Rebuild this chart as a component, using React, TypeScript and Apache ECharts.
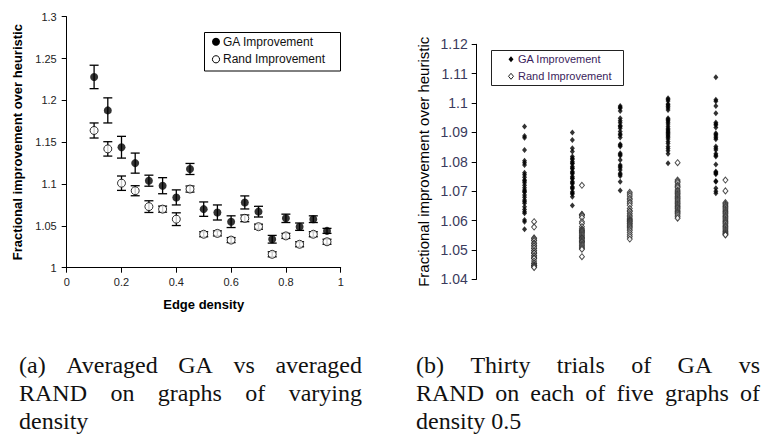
import React, { useEffect, useRef } from "react";
import * as echarts from "echarts";

// ---- (a) averaged results vs edge density ----
const densities = [0.1, 0.15, 0.2, 0.25, 0.3, 0.35, 0.4, 0.45, 0.5, 0.55, 0.6, 0.65, 0.7, 0.75, 0.8, 0.85, 0.9, 0.95];
const gaMean = [1.228, 1.188, 1.144, 1.125, 1.104, 1.098, 1.084, 1.118, 1.07, 1.066, 1.055, 1.078, 1.067, 1.034, 1.059, 1.049, 1.058, 1.044];
const gaErr = [0.014, 0.015, 0.013, 0.012, 0.0066, 0.0096, 0.009, 0.0066, 0.0086, 0.009, 0.007, 0.0078, 0.0064, 0.0046, 0.005, 0.0044, 0.004, 0.003];
const randMean = [1.164, 1.142, 1.101, 1.092, 1.073, 1.07, 1.058, 1.094, 1.04, 1.041, 1.033, 1.059, 1.049, 1.016, 1.038, 1.028, 1.04, 1.031];
const randErr = [0.009, 0.0086, 0.0086, 0.006, 0.007, 0.0036, 0.0076, 0.0036, 0.003, 0.003, 0.003, 0.004, 0.003, 0.003, 0.003, 0.003, 0.003, 0.003];
const leftYTicks = { min: 1, max: 1.3, interval: 0.05 };
const leftXTicks = { min: 0, max: 1, interval: 0.2 };

// ---- (b) thirty trials on five graphs of density 0.5 ----
const graphIds = [1, 2, 3, 4, 5];
const randOffset = 0.2;
const gaTrials = [
  [1.092, 1.0888, 1.0882, 1.084, 1.0804, 1.0797, 1.0789, 1.0763, 1.0756, 1.0747, 1.0738, 1.0735, 1.0729, 1.072, 1.0712, 1.0704, 1.07, 1.0696, 1.0687, 1.0679, 1.067, 1.0665, 1.0659, 1.0647, 1.0638, 1.063, 1.0625, 1.0602, 1.0596, 1.057],
  [1.09, 1.0874, 1.0846, 1.0835, 1.0818, 1.0812, 1.0809, 1.0801, 1.0796, 1.0793, 1.0784, 1.0779, 1.0776, 1.0767, 1.0763, 1.0759, 1.075, 1.0745, 1.0742, 1.0733, 1.0729, 1.0725, 1.0715, 1.0712, 1.0708, 1.0698, 1.0694, 1.069, 1.0681, 1.0651],
  [1.099, 1.0986, 1.0982, 1.0973, 1.0948, 1.094, 1.0933, 1.0924, 1.092, 1.0914, 1.0903, 1.0895, 1.0891, 1.0883, 1.086, 1.0856, 1.0852, 1.0829, 1.0825, 1.0821, 1.0806, 1.0789, 1.0785, 1.078, 1.0772, 1.0761, 1.0757, 1.0752, 1.0732, 1.0702],
  [1.1016, 1.1012, 1.1007, 1.0997, 1.0993, 1.0988, 1.0983, 1.0976, 1.0948, 1.0944, 1.094, 1.0935, 1.0929, 1.0921, 1.0914, 1.0909, 1.0905, 1.0901, 1.0897, 1.0892, 1.0888, 1.0884, 1.0878, 1.0869, 1.0862, 1.0852, 1.0845, 1.0838, 1.0827, 1.0795],
  [1.1088, 1.1011, 1.1006, 1.099, 1.0965, 1.0934, 1.0929, 1.0925, 1.0917, 1.0897, 1.0893, 1.0888, 1.0882, 1.0877, 1.0852, 1.0846, 1.084, 1.0827, 1.0822, 1.0818, 1.0791, 1.0767, 1.0764, 1.0761, 1.0758, 1.0735, 1.0732, 1.071, 1.07, 1.0693],
];
const randTrials = [
  [1.0596, 1.0578, 1.0541, 1.0538, 1.0532, 1.0532, 1.0524, 1.0521, 1.0515, 1.0513, 1.0506, 1.0506, 1.0498, 1.0497, 1.049, 1.0489, 1.0489, 1.0481, 1.0479, 1.0473, 1.0471, 1.0471, 1.0462, 1.0455, 1.0454, 1.0448, 1.0447, 1.0446, 1.0442, 1.044],
  [1.072, 1.0621, 1.062, 1.0616, 1.061, 1.0596, 1.059, 1.0579, 1.0572, 1.0568, 1.0565, 1.0562, 1.0559, 1.0555, 1.0551, 1.0547, 1.0543, 1.0541, 1.0538, 1.0534, 1.053, 1.0528, 1.0526, 1.0521, 1.0517, 1.0513, 1.0509, 1.0505, 1.0502, 1.0477],
  [1.0696, 1.069, 1.0684, 1.0676, 1.0671, 1.0664, 1.0659, 1.0652, 1.0641, 1.0633, 1.0631, 1.0624, 1.0618, 1.0613, 1.0608, 1.0604, 1.0601, 1.0598, 1.0595, 1.0591, 1.0588, 1.0584, 1.058, 1.0576, 1.0571, 1.0566, 1.0559, 1.0552, 1.0545, 1.0537],
  [1.0797, 1.0738, 1.0733, 1.0729, 1.0721, 1.0716, 1.0712, 1.0704, 1.07, 1.0695, 1.0691, 1.0687, 1.0682, 1.0678, 1.0674, 1.067, 1.0666, 1.0661, 1.0657, 1.0653, 1.0649, 1.0645, 1.0641, 1.0636, 1.0632, 1.0628, 1.0624, 1.0619, 1.0613, 1.0608],
  [1.0738, 1.0701, 1.0661, 1.0657, 1.0653, 1.0649, 1.0645, 1.064, 1.0636, 1.0632, 1.0628, 1.0624, 1.0619, 1.0615, 1.0611, 1.0606, 1.0602, 1.0598, 1.0594, 1.059, 1.0585, 1.0581, 1.0577, 1.0572, 1.0568, 1.0564, 1.056, 1.0556, 1.0553, 1.0551],
];
const rightYTicks = { min: 1.04, max: 1.12, interval: 0.01 };

const legendLabels = ["GA Improvement", "Rand Improvement"];
const yTitle = "Fractional improvement over heuristic";
const xTitle = "Edge density";

const captionA = ["(a) Averaged GA vs averaged", "RAND on graphs of varying", "density"];
const captionB = ["(b) Thirty trials of GA vs", "RAND on each of five graphs of", "density 0.5"];

const SANS = '"Liberation Sans", Arial, sans-serif';
const SERIF_FONT = '24px "Liberation Serif", "Times New Roman", serif';

function captionElements(lines: string[], x0: number, x1: number, ys: number[]) {
  const ctx = document.createElement("canvas").getContext("2d")!;
  ctx.font = SERIF_FONT;
  const els: any[] = [];
  lines.forEach((line, li) => {
    const words = line.split(" ");
    const justify = li < lines.length - 1 && words.length > 1;
    const widths = words.map((w) => ctx.measureText(w).width);
    const total = widths.reduce((a, b) => a + b, 0);
    const gap = justify ? (x1 - x0 - total) / (words.length - 1) : ctx.measureText(" ").width;
    let x = x0;
    words.forEach((w, i) => {
      els.push({
        type: "text",
        x,
        y: ys[li],
        silent: true,
        style: { text: w, font: SERIF_FONT, fill: "#111", textAlign: "left", textVerticalAlign: "middle" },
      });
      x += widths[i] + gap;
    });
  });
  return els;
}

function errorRender(params: any, api: any) {
  const x = api.value(0);
  const y = api.value(1);
  const e = api.value(2);
  const top = api.coord([x, y + e]);
  const bot = api.coord([x, y - e]);
  const hw = 4.5;
  const st = { stroke: "#000", lineWidth: 1.3 };
  return {
    type: "group",
    children: [
      { type: "line", shape: { x1: top[0], y1: top[1], x2: bot[0], y2: bot[1] }, style: st },
      { type: "line", shape: { x1: top[0] - hw, y1: top[1], x2: top[0] + hw, y2: top[1] }, style: st },
      { type: "line", shape: { x1: bot[0] - hw, y1: bot[1], x2: bot[0] + hw, y2: bot[1] }, style: st },
    ],
  };
}

export default function App() {
  const ref = useRef<HTMLDivElement>(null);
  useEffect(() => {
    if (!ref.current) return;
    const chart = echarts.init(ref.current, null, { renderer: "svg" });

    const gaData = densities.map((d, i) => [d, gaMean[i], gaErr[i]]);
    const randData = densities.map((d, i) => [d, randMean[i], randErr[i]]);
    const gaTrialData: number[][] = [];
    const randTrialData: number[][] = [];
    graphIds.forEach((g, gi) => {
      gaTrials[gi].forEach((v) => gaTrialData.push([g, v]));
      randTrials[gi].forEach((v) => randTrialData.push([g + randOffset, v]));
    });

    const axisLine = { show: true, lineStyle: { color: "#000", width: 1 } };
    const axisTick = { show: true, inside: false, length: 5, lineStyle: { color: "#000", width: 1 } };

    const option: any = {
      animation: false,
      backgroundColor: "#fff",
      grid: [
        { left: 66.7, top: 16.7, width: 274, height: 251 },
        { left: 476.7, top: 44.3, width: 287, height: 235 },
      ],
      xAxis: [
        {
          gridIndex: 0,
          type: "value",
          ...leftXTicks,
          axisLine,
          axisTick,
          splitLine: { show: false },
          axisLabel: { color: "#222", fontSize: 11, fontFamily: SANS, margin: 9 },
          name: xTitle,
          nameLocation: "middle",
          nameGap: 30,
          nameTextStyle: { color: "#000", fontSize: 13, fontWeight: "bold", fontFamily: SANS },
        },
        { gridIndex: 1, type: "value", min: 0, max: 6, show: false },
      ],
      yAxis: [
        {
          gridIndex: 0,
          type: "value",
          ...leftYTicks,
          axisLine,
          axisTick,
          splitLine: { show: false },
          axisLabel: { color: "#222", fontSize: 11, fontFamily: SANS, margin: 10 },
          name: yTitle,
          nameLocation: "middle",
          nameGap: 43,
          nameTextStyle: { color: "#000", fontSize: 13, fontWeight: "bold", fontFamily: SANS },
        },
        {
          gridIndex: 1,
          type: "value",
          ...rightYTicks,
          axisLine,
          axisTick,
          splitLine: { show: false },
          axisLabel: { color: "#3a3a5c", fontSize: 14, fontFamily: SANS, margin: 9 },
          name: yTitle,
          nameLocation: "middle",
          nameGap: 46,
          nameTextStyle: { color: "#000", fontSize: 15, fontFamily: SANS },
        },
      ],
      series: [
        { type: "custom", name: "GA error", xAxisIndex: 0, yAxisIndex: 0, data: gaData, renderItem: errorRender, encode: { x: 0, y: 1 }, z: 1 },
        { type: "custom", name: "Rand error", xAxisIndex: 0, yAxisIndex: 0, data: randData, renderItem: errorRender, encode: { x: 0, y: 1 }, z: 1 },
        {
          type: "scatter", name: legendLabels[0], xAxisIndex: 0, yAxisIndex: 0, z: 3,
          data: gaData.map((d) => [d[0], d[1]]), symbol: "circle", symbolSize: 8,
          itemStyle: { color: "#000" },
        },
        {
          type: "scatter", name: legendLabels[1], xAxisIndex: 0, yAxisIndex: 0, z: 3,
          data: randData.map((d) => [d[0], d[1]]), symbol: "circle", symbolSize: 8,
          itemStyle: { color: "#fff", borderColor: "#000", borderWidth: 1 },
        },
        {
          type: "scatter", name: legendLabels[0], xAxisIndex: 1, yAxisIndex: 1, z: 3,
          data: gaTrialData, symbol: "diamond", symbolSize: [5, 6],
          itemStyle: { color: "#000" },
        },
        {
          type: "scatter", name: legendLabels[1], xAxisIndex: 1, yAxisIndex: 1, z: 3,
          data: randTrialData, symbol: "diamond", symbolSize: [5, 6],
          itemStyle: { color: "#fff", borderColor: "#222", borderWidth: 1 },
        },
      ],
      graphic: [
        // legend (a)
        { type: "rect", shape: { x: 204.5, y: 32.5, width: 136, height: 38.5 }, style: { fill: "#fff", stroke: "#000", lineWidth: 1 }, z: 10 },
        { type: "circle", shape: { cx: 216, cy: 41.7, r: 4 }, style: { fill: "#000" }, z: 11 },
        { type: "circle", shape: { cx: 216, cy: 59.3, r: 3.6 }, style: { fill: "#fff", stroke: "#000", lineWidth: 1 }, z: 11 },
        { type: "text", x: 223, y: 41.7, z: 11, style: { text: legendLabels[0], font: `12px ${SANS}`, fill: "#111", textAlign: "left", textVerticalAlign: "middle" } },
        { type: "text", x: 223, y: 59.3, z: 11, style: { text: legendLabels[1], font: `12px ${SANS}`, fill: "#111", textAlign: "left", textVerticalAlign: "middle" } },
        // legend (b)
        { type: "rect", shape: { x: 491.5, y: 50.5, width: 132, height: 35 }, style: { fill: "#fff", stroke: "#222", lineWidth: 1 }, z: 10 },
        { type: "polygon", shape: { points: [[511, 56.3], [513.5, 59.3], [511, 62.3], [508.5, 59.3]] }, style: { fill: "#000" }, z: 11 },
        { type: "polygon", shape: { points: [[511, 73.3], [513.5, 76.3], [511, 79.3], [508.5, 76.3]] }, style: { fill: "#fff", stroke: "#222", lineWidth: 1 }, z: 11 },
        { type: "text", x: 518, y: 59.3, z: 11, style: { text: legendLabels[0], font: `11px ${SANS}`, fill: "#3a1d5c", textAlign: "left", textVerticalAlign: "middle" } },
        { type: "text", x: 518, y: 76.3, z: 11, style: { text: legendLabels[1], font: `11px ${SANS}`, fill: "#3a1d5c", textAlign: "left", textVerticalAlign: "middle" } },
        ...captionElements(captionA, 19, 362, [365, 393, 421]),
        ...captionElements(captionB, 416, 760, [365, 393, 421]),
      ],
    };
    chart.setOption(option);
    return () => chart.dispose();
  }, []);
  return <div ref={ref} style={{ position: "fixed", left: 0, top: 0, width: 764, height: 435, background: "#fff" }} />;
}
